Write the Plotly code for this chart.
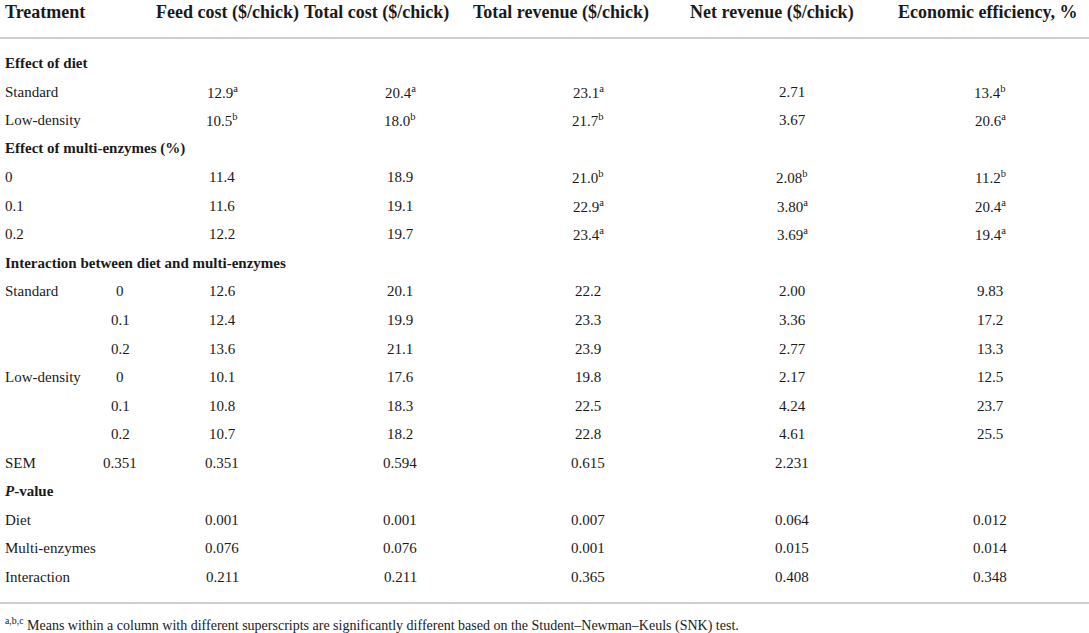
import plotly.graph_objects as go

# column headers
headers = ["Treatment", "Feed cost ($/chick)", "Total cost ($/chick)",
           "Total revenue ($/chick)", "Net revenue ($/chick)", "Economic efficiency, %"]

# first column (row labels) and second column (enzyme level / SEM)
row_labels = ["<b>Effect of diet</b>", "Standard", "Low-density",
              "<b>Effect of multi-enzymes (%)</b>", "0", "0.1", "0.2",
              "<b>Interaction between diet and multi-enzymes</b>",
              "Standard", "", "", "Low-density", "", "", "SEM",
              "<b><i>P</i>-value</b>", "Diet", "Multi-enzymes", "Interaction"]
levels = ["", "", "", "", "", "", "", "",
          "0", "0.1", "0.2", "0", "0.1", "0.2", "0.351",
          "", "", "", ""]

feed_cost = ["", "12.9", "10.5", "", "11.4", "11.6", "12.2", "",
             "12.6", "12.4", "13.6", "10.1", "10.8", "10.7", "0.351",
             "", "0.001", "0.076", "0.211"]
feed_sup = ["", "a", "b", "", "", "", "", "", "", "", "", "", "", "", "", "", "", "", ""]

total_cost = ["", "20.4", "18.0", "", "18.9", "19.1", "19.7", "",
              "20.1", "19.9", "21.1", "17.6", "18.3", "18.2", "0.594",
              "", "0.001", "0.076", "0.211"]
total_cost_sup = ["", "a", "b", "", "", "", "", "", "", "", "", "", "", "", "", "", "", "", ""]

total_revenue = ["", "23.1", "21.7", "", "21.0", "22.9", "23.4", "",
                 "22.2", "23.3", "23.9", "19.8", "22.5", "22.8", "0.615",
                 "", "0.007", "0.001", "0.365"]
total_revenue_sup = ["", "a", "b", "", "b", "a", "a", "", "", "", "", "", "", "", "", "", "", "", ""]

net_revenue = ["", "2.71", "3.67", "", "2.08", "3.80", "3.69", "",
               "2.00", "3.36", "2.77", "2.17", "4.24", "4.61", "2.231",
               "", "0.064", "0.015", "0.408"]
net_revenue_sup = ["", "", "", "", "b", "a", "a", "", "", "", "", "", "", "", "", "", "", "", ""]

econ_eff = ["", "13.4", "20.6", "", "11.2", "20.4", "19.4", "",
            "9.83", "17.2", "13.3", "12.5", "23.7", "25.5", "",
            "", "0.012", "0.014", "0.348"]
econ_eff_sup = ["", "b", "a", "", "b", "a", "a", "", "", "", "", "", "", "", "", "", "", "", ""]

footnote = ("<sup>a,b,c</sup> Means within a column with different superscripts are "
            "significantly different based on the Student\u2013Newman\u2013Keuls (SNK) test.")

W, H = 1089, 633
FONT = "Liberation Serif"
TXT = "#1a1a1a"

header_x = [3, 154, 302, 471, 688, 896]
col_centers = [222, 400, 588, 792, 990]
level_center = 120
row_y0, row_step = 63, 28.55

fig = go.Figure()
annotations = []

for hx, h in zip(header_x, headers):
    annotations.append(dict(x=hx, y=12, text="<b>" + h + "</b>", xanchor="left",
                            yanchor="middle", showarrow=False,
                            font=dict(family=FONT, size=18, color=TXT)))

columns = [(feed_cost, feed_sup), (total_cost, total_cost_sup),
           (total_revenue, total_revenue_sup), (net_revenue, net_revenue_sup),
           (econ_eff, econ_eff_sup)]

for i, lab in enumerate(row_labels):
    y = row_y0 + i * row_step
    if lab:
        annotations.append(dict(x=3, y=y, text=lab, xanchor="left", yanchor="middle",
                                showarrow=False, font=dict(family=FONT, size=15, color=TXT)))
    if levels[i]:
        annotations.append(dict(x=level_center, y=y, text=levels[i], xanchor="center",
                                yanchor="middle", showarrow=False,
                                font=dict(family=FONT, size=15, color=TXT)))
    for cx, (vals, sups) in zip(col_centers, columns):
        if vals[i]:
            t = vals[i] + ("<sup>" + sups[i] + "</sup>" if sups[i] else "")
            annotations.append(dict(x=cx, y=y, text=t, xanchor="center", yanchor="middle",
                                    showarrow=False, font=dict(family=FONT, size=15, color=TXT)))

annotations.append(dict(x=3, y=624, text=footnote, xanchor="left", yanchor="middle",
                        showarrow=False, font=dict(family=FONT, size=14, color=TXT)))

shapes = [
    dict(type="line", x0=0, x1=W, y0=38, y1=38, xref="x", yref="y",
         line=dict(color="#cfcfcf", width=2)),
    dict(type="line", x0=0, x1=W, y0=603, y1=603, xref="x", yref="y",
         line=dict(color="#cfcfcf", width=2)),
]

fig.update_layout(
    width=W, height=H,
    margin=dict(l=0, r=0, t=0, b=0),
    paper_bgcolor="white", plot_bgcolor="white",
    xaxis=dict(range=[0, W], visible=False, fixedrange=True),
    yaxis=dict(range=[H, 0], visible=False, fixedrange=True),
    annotations=annotations,
    shapes=shapes,
    showlegend=False,
)

# drop the browser's default page margin so the table sits at the top-left corner
fig.write_html("out.html", config={"displayModeBar": False},
               post_script="document.body.style.margin='0';document.body.style.overflow='hidden';")
